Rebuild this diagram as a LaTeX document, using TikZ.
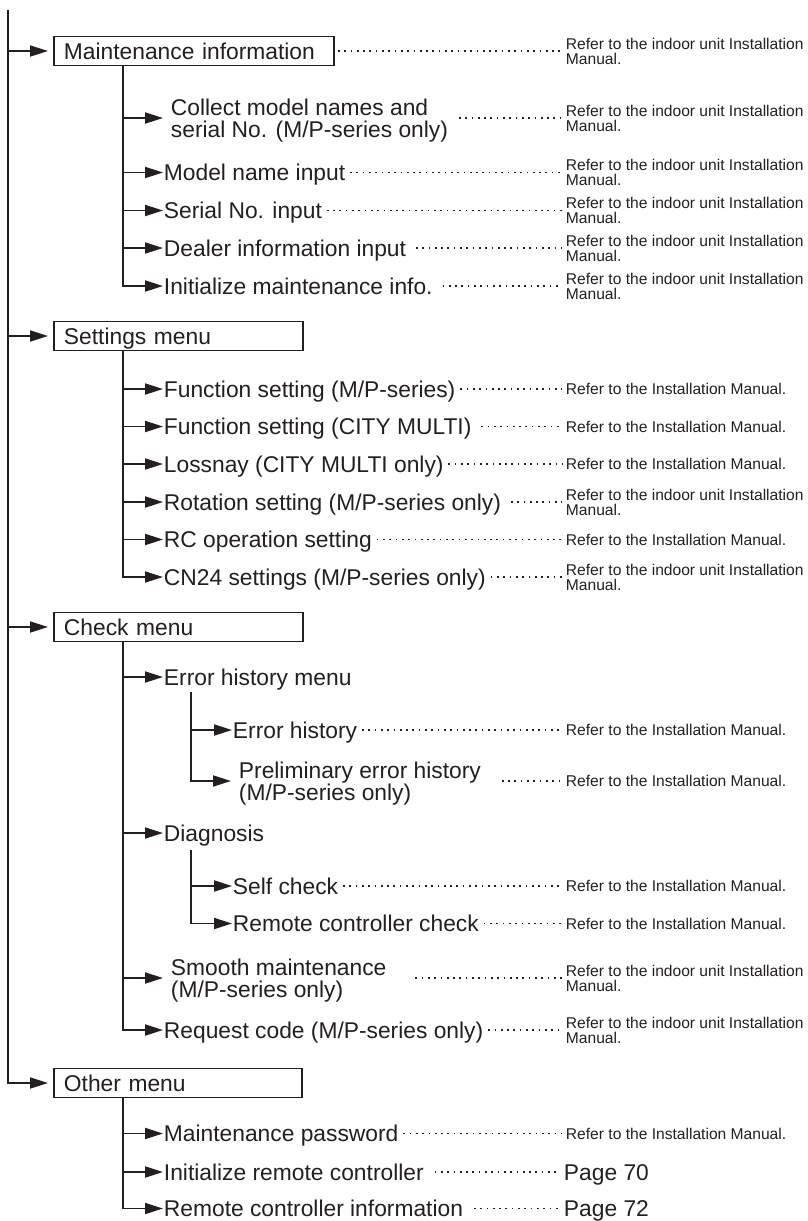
\documentclass[tikz,border=0pt]{standalone}
\usepackage{fontspec}
\setmainfont{Liberation Sans}
\usetikzlibrary{arrows.meta}
\definecolor{ink}{RGB}{35,31,32}
\begin{document}
\begin{tikzpicture}[x=1bp, y=-1bp, line width=1.9bp, draw=ink, text=ink,
  bigfont/.style={font=\fontsize{22.8bp}{22bp}\selectfont},
  smallfont/.style={font=\fontsize{15.6bp}{15bp}\selectfont},
  item/.style={bigfont, anchor=west, inner sep=0pt, text height=16.3bp, text depth=0pt},
  itemtwo/.style={bigfont, anchor=west, inner sep=0pt, align=left},
  ref/.style={smallfont, anchor=west, inner sep=0pt, text height=11bp, text depth=0pt},
  reftwo/.style={smallfont, anchor=west, inner sep=0pt, align=left},
  menubox/.style={draw, bigfont, anchor=west, inner xsep=10bp, inner ysep=0pt, minimum height=29bp, align=left, text height=16.3bp, text depth=0pt},
  arr/.style={-{Triangle[length=18bp,width=11bp]}},
  leader/.style={line width=1.7bp, dash pattern=on 1.7bp off 4.6bp, shorten <=4bp, shorten >=3bp},
]
\useasboundingbox (0,0) rectangle (808,1221);

% ---------- main trunk ----------
\coordinate (top) at (8,10);
\node[menubox, text width=260bp] (mi) at (53,51) {Maintenance information};
\node[menubox, text width=229bp] (sm) at (53,336) {Settings menu};
\node[menubox, text width=229bp] (cm) at (53,627) {Check menu};
\node[menubox, text width=228bp] (om) at (53,1083) {Other menu};
\draw[arr, shorten >=5bp] (top |- mi.west) -- (mi.west);
\draw[arr, shorten >=5bp] (top |- sm.west) -- (sm.west);
\draw[arr, shorten >=5bp] (top |- cm.west) -- (cm.west);
\draw[arr, shorten >=5bp] (top) |- (om.west);

\node[reftwo] (rmi) at (565,51) {Refer to the indoor unit Installation\\Manual.};
\draw[leader, shorten <=3bp] (mi.east) -- (rmi.west |- mi.east);

% ---------- Maintenance information ----------
\coordinate (mt) at ([xshift=70bp]mi.south west);
\node[itemtwo] (m1) at (170,121) {Collect model names and\\serial No. (M/P-series only)};
\coordinate (m1a) at (163,118);
\node[item] (m2) at (163,172.5) {Model name input};
\node[item] (m3) at (163,210.5) {Serial No. input};
\node[item] (m4) at (163,248) {Dealer information input};
\node[item] (m5) at (163,286) {Initialize maintenance info.};
\node[reftwo] (rm1) at (565,118) {Refer to the indoor unit Installation\\Manual.};
\node[reftwo] (rm2) at (565,172.5) {Refer to the indoor unit Installation\\Manual.};
\node[reftwo] (rm3) at (565,210.5) {Refer to the indoor unit Installation\\Manual.};
\node[reftwo] (rm4) at (565,248) {Refer to the indoor unit Installation\\Manual.};
\node[reftwo] (rm5) at (565,286) {Refer to the indoor unit Installation\\Manual.};
\draw[arr] (mt |- m1a) -- (m1a);
\draw[arr] (mt |- m2.west) -- (m2.west);
\draw[arr] (mt |- m3.west) -- (m3.west);
\draw[arr] (mt |- m4.west) -- (m4.west);
\draw[arr] (mt) |- (m5.west);
\draw[leader, shorten <=10bp] (m1.east |- m1a) -- (rm1.west |- m1a);
\draw[leader] (m2.east) -- (rm2.west |- m2.east);
\draw[leader] (m3.east) -- (rm3.west |- m3.east);
\draw[leader, shorten <=9bp] (m4.east) -- (rm4.west |- m4.east);
\draw[leader, shorten <=9bp] (m5.east) -- (rm5.west |- m5.east);

% ---------- Settings menu ----------
\coordinate (st) at ([xshift=70bp]sm.south west);
\node[item] (s1) at (163,389) {Function setting (M/P-series)};
\node[item] (s2) at (163,426.5) {Function setting (CITY MULTI)};
\node[item] (s3) at (163,464) {Lossnay (CITY MULTI only)};
\node[item] (s4) at (163,502) {Rotation setting (M/P-series only)};
\node[item] (s5) at (163,539.5) {RC operation setting};
\node[item] (s6) at (163,577) {CN24 settings (M/P-series only)};
\node[ref] (rs1) at (565,389) {Refer to the Installation Manual.};
\node[ref] (rs2) at (565,426.5) {Refer to the Installation Manual.};
\node[ref] (rs3) at (565,464) {Refer to the Installation Manual.};
\node[reftwo] (rs4) at (565,502) {Refer to the indoor unit Installation\\Manual.};
\node[ref] (rs5) at (565,539.5) {Refer to the Installation Manual.};
\node[reftwo] (rs6) at (565,577) {Refer to the indoor unit Installation\\Manual.};
\draw[arr] (st |- s1.west) -- (s1.west);
\draw[arr] (st |- s2.west) -- (s2.west);
\draw[arr] (st |- s3.west) -- (s3.west);
\draw[arr] (st |- s4.west) -- (s4.west);
\draw[arr] (st |- s5.west) -- (s5.west);
\draw[arr] (st) |- (s6.west);
\draw[leader] (s1.east) -- (rs1.west |- s1.east);
\draw[leader, shorten <=9bp] (s2.east) -- (rs2.west |- s2.east);
\draw[leader] (s3.east) -- (rs3.west |- s3.east);
\draw[leader, shorten <=9bp] (s4.east) -- (rs4.west |- s4.east);
\draw[leader] (s5.east) -- (rs5.west |- s5.east);
\draw[leader] (s6.east) -- (rs6.west |- s6.east);

% ---------- Check menu ----------
\coordinate (ct) at ([xshift=70bp]cm.south west);
\node[item] (c1) at (163,677) {Error history menu};
\node[item] (c2) at (232,730) {Error history};
\node[itemtwo] (c3) at (238,784) {Preliminary error history\\(M/P-series only)};
\coordinate (c3a) at (231,781);
\node[item] (c4) at (163,833) {Diagnosis};
\node[item] (c5) at (232,886) {Self check};
\node[item] (c6) at (232,923.5) {Remote controller check};
\node[itemtwo] (c7) at (170,981) {Smooth maintenance\\(M/P-series only)};
\coordinate (c7a) at (163,978);
\node[item] (c8) at (163,1030) {Request code (M/P-series only)};
\node[ref] (rc2) at (565,730) {Refer to the Installation Manual.};
\node[ref] (rc3) at (565,781) {Refer to the Installation Manual.};
\node[ref] (rc5) at (565,886) {Refer to the Installation Manual.};
\node[ref] (rc6) at (565,923.5) {Refer to the Installation Manual.};
\node[reftwo] (rc7) at (565,978) {Refer to the indoor unit Installation\\Manual.};
\node[reftwo] (rc8) at (565,1030) {Refer to the indoor unit Installation\\Manual.};
\draw[arr] (ct |- c1.west) -- (c1.west);
\draw[arr] (ct |- c4.west) -- (c4.west);
\draw[arr] (ct |- c7a) -- (c7a);
\draw[arr] (ct) |- (c8.west);
\coordinate (et) at (191,692);
\draw[arr] (et |- c2.west) -- (c2.west);
\draw[arr] (et) |- (c3a);
\coordinate (dt) at (191,850);
\draw[arr] (dt |- c5.west) -- (c5.west);
\draw[arr] (dt) |- (c6.west);
\draw[leader] (c2.east) -- (rc2.west |- c2.east);
\draw[leader, shorten <=20bp] (c3.east |- c3a) -- (rc3.west |- c3a);
\draw[leader] (c5.east) -- (rc5.west |- c5.east);
\draw[leader] (c6.east) -- (rc6.west |- c6.east);
\draw[leader, shorten <=28bp] (c7.east |- c7a) -- (rc7.west |- c7a);
\draw[leader] (c8.east) -- (rc8.west |- c8.east);

% ---------- Other menu ----------
\coordinate (ot) at ([xshift=70bp]om.south west);
\node[item] (o1) at (163,1133.5) {Maintenance password};
\node[item] (o2) at (163,1172) {Initialize remote controller};
\node[item] (o3) at (163,1208.5) {Remote controller information};
\node[ref] (ro1) at (565,1133.5) {Refer to the Installation Manual.};
\node[item] (ro2) at (563,1172) {Page 70};
\node[item] (ro3) at (563,1208.5) {Page 72};
\draw[arr] (ot |- o1.west) -- (o1.west);
\draw[arr] (ot |- o2.west) -- (o2.west);
\draw[arr] (ot) |- (o3.west);
\draw[leader] (o1.east) -- (ro1.west |- o1.east);
\draw[leader, shorten <=10bp] (o2.east) -- (ro2.west |- o2.east);
\draw[leader, shorten <=10bp] (o3.east) -- (ro3.west |- o3.east);
\end{tikzpicture}
\end{document}
